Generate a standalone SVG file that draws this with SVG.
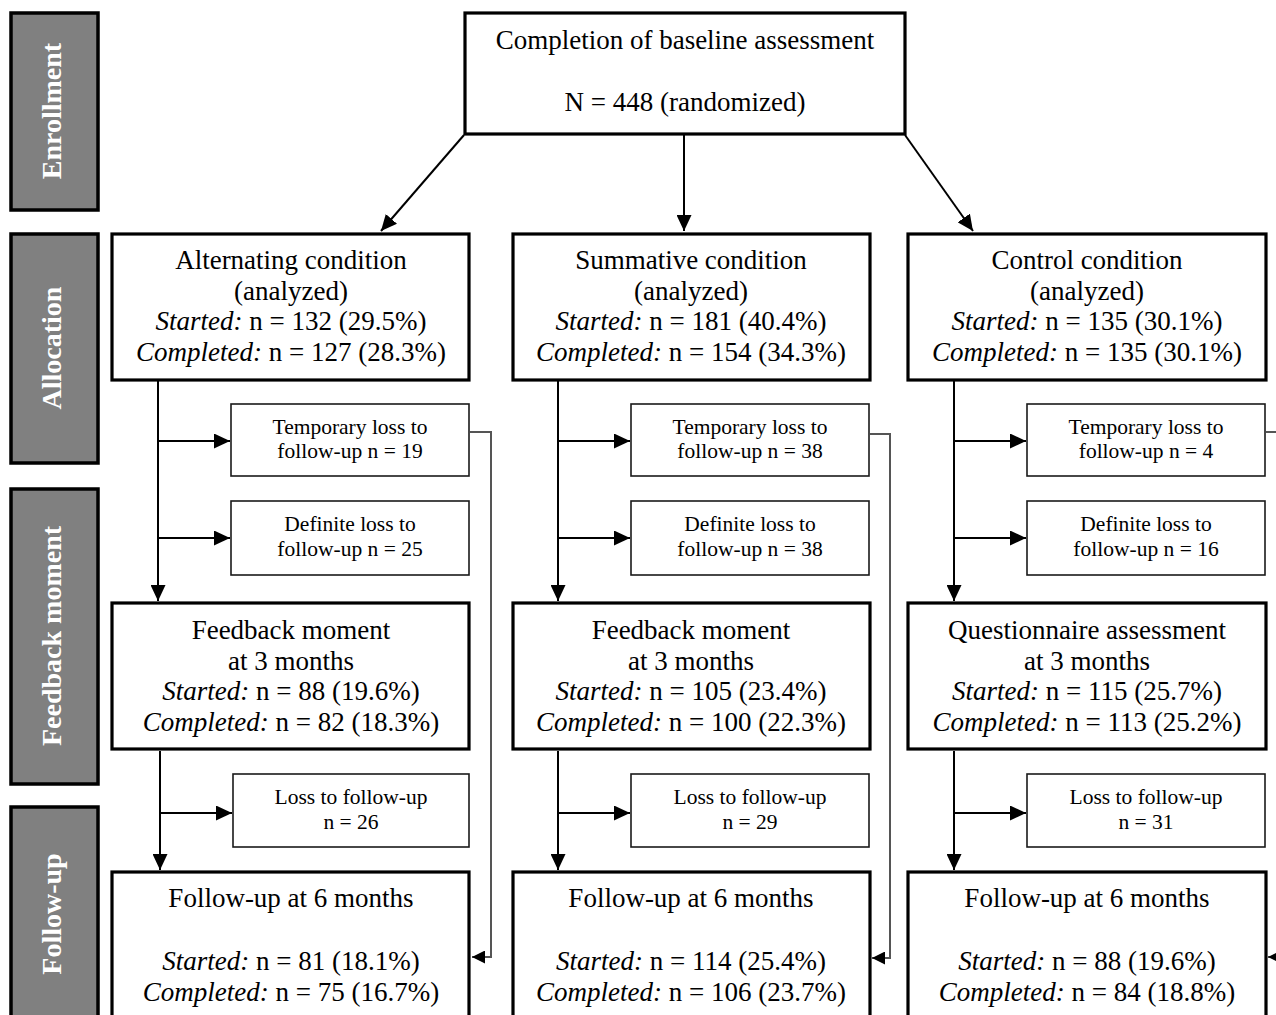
<svg xmlns="http://www.w3.org/2000/svg" width="1276" height="1015" viewBox="0 0 1276 1015">
<style>
text{font-family:"Liberation Serif","Times New Roman",serif;fill:#000;text-anchor:middle}
.m{font-size:27px}
.s{font-size:21.5px}
.side{font-size:28px;font-weight:bold;fill:#fff}
.i{font-style:italic}
.box{fill:#fff;stroke:#000;stroke-width:3.2}
.sbox{fill:#fff;stroke:#1a1a1a;stroke-width:1.6}
.sidebox{fill:#808080;stroke:#000;stroke-width:3.5}
.c{fill:none;stroke:#000;stroke-width:2}
.g{fill:none;stroke:#555;stroke-width:2}
</style>
<defs>
<marker id="ah" markerUnits="userSpaceOnUse" markerWidth="17" markerHeight="15" refX="16" refY="7.5" orient="auto">
<path d="M0,0 L16,7.5 L0,15 Z" fill="#000"/>
</marker>
<marker id="ag" markerUnits="userSpaceOnUse" markerWidth="14" markerHeight="13" refX="13" refY="6.5" orient="auto">
<path d="M0,0 L13,6.5 L0,13 Z" fill="#000"/>
</marker>
</defs>
<rect width="1276" height="1015" fill="#fff"/>

<g id="phase-enrollment"><rect class="sidebox" x="11" y="13" width="87" height="197"/><text class="side" transform="translate(61,111) rotate(-90)">Enrollment</text></g>
<g id="phase-allocation"><rect class="sidebox" x="11" y="234" width="87" height="229"/><text class="side" transform="translate(61,348) rotate(-90)">Allocation</text></g>
<g id="phase-feedback"><rect class="sidebox" x="11" y="489" width="87" height="295"/><text class="side" transform="translate(61,636) rotate(-90)">Feedback moment</text></g>
<g id="phase-followup"><rect class="sidebox" x="11" y="807" width="87" height="220"/><text class="side" transform="translate(61,914) rotate(-90)">Follow-up</text></g>

<g id="connectors">
<path class="c" d="M464,135 L381,231" marker-end="url(#ah)"/>
<path class="c" d="M684,135 L684,231" marker-end="url(#ah)"/>
<path class="c" d="M905,135 L973,231" marker-end="url(#ah)"/>

<path class="c" d="M158,381 L158,601" marker-end="url(#ah)"/>
<path class="c" d="M158,441 L230,441" marker-end="url(#ah)"/>
<path class="c" d="M158,538 L230,538" marker-end="url(#ah)"/>
<path class="c" d="M558,381 L558,601" marker-end="url(#ah)"/>
<path class="c" d="M558,441 L630,441" marker-end="url(#ah)"/>
<path class="c" d="M558,538 L630,538" marker-end="url(#ah)"/>
<path class="c" d="M954,381 L954,601" marker-end="url(#ah)"/>
<path class="c" d="M954,441 L1026,441" marker-end="url(#ah)"/>
<path class="c" d="M954,538 L1026,538" marker-end="url(#ah)"/>

<path class="c" d="M160,751 L160,870" marker-end="url(#ah)"/>
<path class="c" d="M160,813 L232,813" marker-end="url(#ah)"/>
<path class="c" d="M558,751 L558,870" marker-end="url(#ah)"/>
<path class="c" d="M558,813 L630,813" marker-end="url(#ah)"/>
<path class="c" d="M954,751 L954,870" marker-end="url(#ah)"/>
<path class="c" d="M954,813 L1026,813" marker-end="url(#ah)"/>

<path class="g" d="M470,432 L491,432 L491,957 L472,957" marker-end="url(#ag)"/>
<path class="g" d="M870,434 L890,434 L890,958 L872,958" marker-end="url(#ag)"/>
<path class="g" d="M1266,432 L1280,432"/>
<path class="g" d="M1290,957 L1268,957" marker-end="url(#ag)"/>
</g>

<g id="baseline"><rect class="box" x="465" y="13" width="440" height="121"/>
<text class="m" x="685" y="49">Completion of baseline assessment</text>
<text class="m" x="685" y="111">N = 448 (randomized)</text></g>

<g id="alloc-alternating"><rect class="box" x="112" y="234" width="357" height="146"/>
<text class="m" x="291" y="269">Alternating condition</text>
<text class="m" x="291" y="300">(analyzed)</text>
<text class="m" x="291" y="330"><tspan class="i">Started:</tspan> n = 132 (29.5%)</text>
<text class="m" x="291" y="361"><tspan class="i">Completed:</tspan> n = 127 (28.3%)</text></g>

<g id="alloc-summative"><rect class="box" x="513" y="234" width="357" height="146"/>
<text class="m" x="691" y="269">Summative condition</text>
<text class="m" x="691" y="300">(analyzed)</text>
<text class="m" x="691" y="330"><tspan class="i">Started:</tspan> n = 181 (40.4%)</text>
<text class="m" x="691" y="361"><tspan class="i">Completed:</tspan> n = 154 (34.3%)</text></g>

<g id="alloc-control"><rect class="box" x="908" y="234" width="358" height="146"/>
<text class="m" x="1087" y="269">Control condition</text>
<text class="m" x="1087" y="300">(analyzed)</text>
<text class="m" x="1087" y="330"><tspan class="i">Started:</tspan> n = 135 (30.1%)</text>
<text class="m" x="1087" y="361"><tspan class="i">Completed:</tspan> n = 135 (30.1%)</text></g>

<g id="temp-alt"><rect class="sbox" x="231" y="404" width="238" height="72"/>
<text class="s" x="350" y="434">Temporary loss to</text><text class="s" x="350" y="458">follow-up n = 19</text></g>
<g id="def-alt"><rect class="sbox" x="231" y="501" width="238" height="74"/>
<text class="s" x="350" y="531">Definite loss to</text><text class="s" x="350" y="556">follow-up n = 25</text></g>
<g id="temp-sum"><rect class="sbox" x="631" y="404" width="238" height="72"/>
<text class="s" x="750" y="434">Temporary loss to</text><text class="s" x="750" y="458">follow-up n = 38</text></g>
<g id="def-sum"><rect class="sbox" x="631" y="501" width="238" height="74"/>
<text class="s" x="750" y="531">Definite loss to</text><text class="s" x="750" y="556">follow-up n = 38</text></g>
<g id="temp-con"><rect class="sbox" x="1027" y="404" width="238" height="72"/>
<text class="s" x="1146" y="434">Temporary loss to</text><text class="s" x="1146" y="458">follow-up n = 4</text></g>
<g id="def-con"><rect class="sbox" x="1027" y="501" width="238" height="74"/>
<text class="s" x="1146" y="531">Definite loss to</text><text class="s" x="1146" y="556">follow-up n = 16</text></g>

<g id="fb-alt"><rect class="box" x="112" y="603" width="357" height="146"/>
<text class="m" x="291" y="639">Feedback moment</text>
<text class="m" x="291" y="670">at 3 months</text>
<text class="m" x="291" y="700"><tspan class="i">Started:</tspan> n = 88 (19.6%)</text>
<text class="m" x="291" y="731"><tspan class="i">Completed:</tspan> n = 82 (18.3%)</text></g>
<g id="fb-sum"><rect class="box" x="513" y="603" width="357" height="146"/>
<text class="m" x="691" y="639">Feedback moment</text>
<text class="m" x="691" y="670">at 3 months</text>
<text class="m" x="691" y="700"><tspan class="i">Started:</tspan> n = 105 (23.4%)</text>
<text class="m" x="691" y="731"><tspan class="i">Completed:</tspan> n = 100 (22.3%)</text></g>
<g id="q-con"><rect class="box" x="908" y="603" width="358" height="146"/>
<text class="m" x="1087" y="639">Questionnaire assessment</text>
<text class="m" x="1087" y="670">at 3 months</text>
<text class="m" x="1087" y="700"><tspan class="i">Started:</tspan> n = 115 (25.7%)</text>
<text class="m" x="1087" y="731"><tspan class="i">Completed:</tspan> n = 113 (25.2%)</text></g>

<g id="loss-alt"><rect class="sbox" x="233" y="774" width="236" height="73"/>
<text class="s" x="351" y="804">Loss to follow-up</text><text class="s" x="351" y="829">n = 26</text></g>
<g id="loss-sum"><rect class="sbox" x="631" y="774" width="238" height="73"/>
<text class="s" x="750" y="804">Loss to follow-up</text><text class="s" x="750" y="829">n = 29</text></g>
<g id="loss-con"><rect class="sbox" x="1027" y="774" width="238" height="73"/>
<text class="s" x="1146" y="804">Loss to follow-up</text><text class="s" x="1146" y="829">n = 31</text></g>

<g id="fu-alt"><rect class="box" x="112" y="872" width="357" height="160"/>
<text class="m" x="291" y="907">Follow-up at 6 months</text>
<text class="m" x="291" y="970"><tspan class="i">Started:</tspan> n = 81 (18.1%)</text>
<text class="m" x="291" y="1001"><tspan class="i">Completed:</tspan> n = 75 (16.7%)</text></g>
<g id="fu-sum"><rect class="box" x="513" y="872" width="357" height="160"/>
<text class="m" x="691" y="907">Follow-up at 6 months</text>
<text class="m" x="691" y="970"><tspan class="i">Started:</tspan> n = 114 (25.4%)</text>
<text class="m" x="691" y="1001"><tspan class="i">Completed:</tspan> n = 106 (23.7%)</text></g>
<g id="fu-con"><rect class="box" x="908" y="872" width="358" height="160"/>
<text class="m" x="1087" y="907">Follow-up at 6 months</text>
<text class="m" x="1087" y="970"><tspan class="i">Started:</tspan> n = 88 (19.6%)</text>
<text class="m" x="1087" y="1001"><tspan class="i">Completed:</tspan> n = 84 (18.8%)</text></g>
</svg>
